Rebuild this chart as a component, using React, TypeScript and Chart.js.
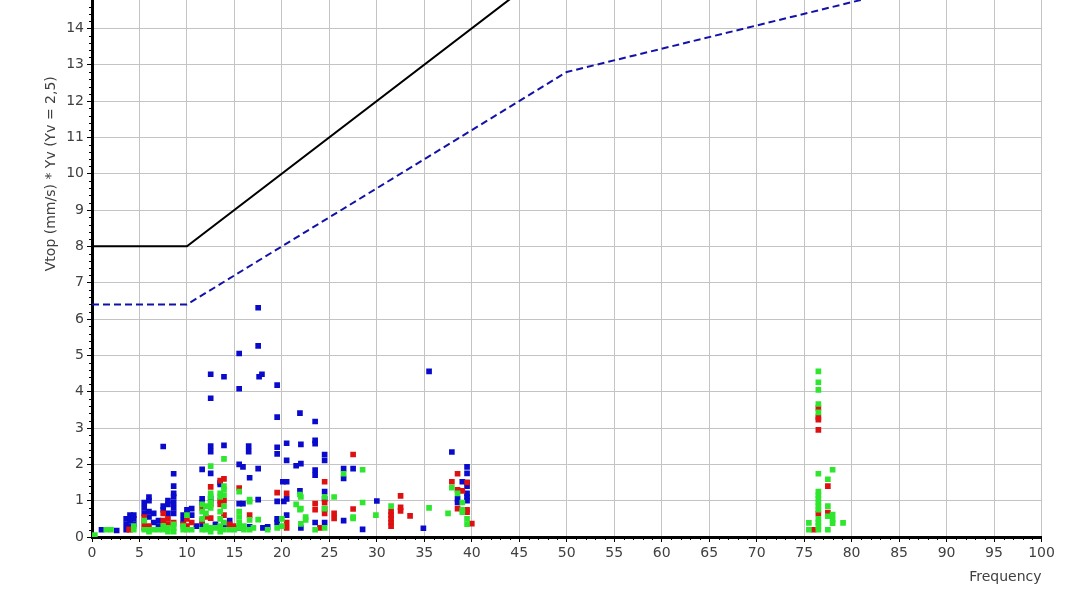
import React, { useEffect, useRef } from "react";
import { Chart, registerables } from "chart.js";

Chart.register(...registerables);

const X_MIN = 0;
const X_MAX = 100;
const X_STEP = 5;
const Y_MIN = 0;
const Y_MAX = 20;
const Y_STEP = 1;

const xTitle = "Frequency";
const yTitle = "Vtop (mm/s) * Yv (Yv = 2,5)";

// limit lines [frequency, value]
const limitLine1: number[][] = [[0, 8], [10, 8], [50, 16], [100, 20]];
const limitLine2: number[][] = [[0, 6.4], [10, 6.4], [50, 12.8], [100, 16]];

// measured points [frequency, value]
const bluePoints: number[][] = [
  [1.0, 0.2], [2.6, 0.18],
  [3.6, 0.5], [3.6, 0.35], [3.6, 0.2],
  [4.0, 0.6], [4.0, 0.45], [4.0, 0.3],
  [4.4, 0.6], [4.4, 0.5], [4.4, 0.35],
  [5.5, 0.95], [5.5, 0.8], [5.5, 0.65],
  [6.0, 1.1], [6.0, 1.0], [6.0, 0.7], [6.0, 0.55],
  [6.5, 0.65], [6.5, 0.4],
  [7.0, 0.45], [7.0, 0.3],
  [7.5, 2.49], [7.5, 0.85], [7.5, 0.75],
  [8.0, 1.0], [8.0, 0.9], [8.0, 0.65],
  [8.6, 1.74], [8.6, 1.4], [8.6, 1.2], [8.6, 1.1], [8.6, 0.95], [8.6, 0.8], [8.6, 0.65],
  [9.6, 0.6], [9.6, 0.45],
  [10.0, 0.75], [10.0, 0.65],
  [10.5, 0.78], [10.5, 0.6],
  [11.0, 0.3],
  [11.6, 1.86], [11.6, 1.05], [11.6, 0.95], [11.6, 0.35],
  [12.5, 4.48], [12.5, 3.82], [12.5, 2.5], [12.5, 2.35], [12.5, 1.75], [12.5, 1.05],
  [13.0, 0.35],
  [13.5, 1.5], [13.5, 1.45],
  [13.9, 4.41], [13.9, 2.52], [13.9, 0.35],
  [14.5, 0.45], [14.5, 0.3],
  [15.5, 5.05], [15.5, 4.08], [15.5, 2.0], [15.5, 0.92], [15.5, 0.25],
  [15.9, 1.93], [15.9, 0.92],
  [16.5, 2.5], [16.5, 2.35], [16.6, 1.63], [16.6, 0.28],
  [17.5, 6.31], [17.5, 5.26], [17.6, 4.41], [17.9, 4.48], [17.5, 1.88], [17.5, 1.03],
  [18.0, 0.25], [18.5, 0.28],
  [19.5, 4.18], [19.5, 3.3], [19.5, 2.47], [19.5, 2.29], [19.5, 0.98], [19.5, 0.5], [19.5, 0.4],
  [20.1, 1.52], [20.5, 1.52], [20.2, 0.98], [20.5, 1.05], [20.5, 0.6],
  [20.5, 2.58], [20.5, 2.11],
  [21.5, 1.96], [22.0, 2.02], [22.0, 2.55], [21.9, 3.41], [21.9, 1.27], [22.0, 0.25],
  [23.5, 3.18], [23.5, 2.66], [23.5, 2.57], [23.5, 1.84], [23.5, 1.7], [23.5, 0.4],
  [24.5, 2.27], [24.5, 2.11], [24.5, 1.25], [24.5, 1.05], [24.5, 0.4],
  [26.5, 1.88], [26.5, 1.61], [26.5, 0.45],
  [27.5, 1.88],
  [28.5, 0.21],
  [30.0, 0.99],
  [34.9, 0.24],
  [35.5, 4.56],
  [37.9, 2.34],
  [38.5, 1.05], [38.5, 0.95],
  [39.0, 1.52],
  [39.5, 1.93], [39.5, 1.75], [39.5, 1.5], [39.5, 1.4], [39.5, 1.2], [39.5, 1.1], [39.5, 1.0],
];

const redPoints: number[][] = [
  [3.9, 0.21], [4.0, 0.2],
  [5.5, 0.55], [5.5, 0.4], [5.5, 0.25],
  [6.0, 0.3],
  [7.5, 0.65], [7.5, 0.45],
  [8.0, 0.5], [8.0, 0.35],
  [8.6, 0.4],
  [9.6, 0.35],
  [10.0, 0.5], [10.0, 0.3],
  [10.5, 0.4],
  [11.6, 0.8], [11.6, 0.45],
  [12.0, 0.55],
  [12.5, 1.38], [12.5, 0.9], [12.5, 0.52],
  [13.5, 1.55], [13.5, 1.0], [13.5, 0.9],
  [13.9, 1.6], [13.9, 1.0], [13.9, 0.6],
  [14.5, 0.35], [14.9, 0.3],
  [15.5, 1.35],
  [16.6, 0.6],
  [19.5, 1.22], [20.5, 1.2], [20.5, 0.4], [20.5, 0.25],
  [23.5, 0.92], [23.5, 0.75],
  [24.0, 0.25], [24.5, 1.52], [24.5, 0.95], [24.5, 0.78], [24.5, 0.65],
  [25.5, 0.51], [25.5, 0.65],
  [27.5, 2.27], [27.5, 0.77],
  [31.5, 0.7], [31.5, 0.6], [31.5, 0.5], [31.5, 0.4], [31.5, 0.3],
  [32.5, 1.13], [32.5, 0.82], [32.5, 0.72],
  [33.5, 0.58],
  [37.9, 1.52], [38.5, 1.74], [38.5, 1.3], [38.5, 0.78],
  [39.0, 1.27], [39.5, 1.5], [39.5, 0.75], [39.5, 0.68], [40.0, 0.37],
  [76.5, 3.55], [76.5, 3.3], [76.5, 3.23], [76.5, 2.95], [76.5, 0.65],
  [77.5, 1.4], [77.5, 0.67], [76.0, 0.2],
];

const greenPoints: number[][] = [
  [0.3, 0.05], [1.5, 0.2], [2.0, 0.2],
  [4.4, 0.2], [4.4, 0.3],
  [5.5, 0.45], [5.5, 0.2],
  [6.0, 0.2], [6.0, 0.15],
  [6.5, 0.2],
  [7.0, 0.2],
  [7.5, 0.3], [7.5, 0.2],
  [8.0, 0.25], [8.0, 0.15],
  [8.6, 0.35], [8.6, 0.25], [8.6, 0.15],
  [9.6, 0.3], [9.6, 0.2],
  [10.0, 0.6], [10.0, 0.2],
  [10.5, 0.2],
  [11.6, 0.9], [11.6, 0.7], [11.6, 0.5], [11.6, 0.2],
  [12.0, 0.85], [12.0, 0.65], [12.0, 0.3], [12.0, 0.2],
  [12.5, 1.95], [12.5, 1.2], [12.5, 1.1], [12.5, 0.95], [12.5, 0.8], [12.5, 0.25], [12.5, 0.15],
  [13.0, 0.25],
  [13.5, 1.2], [13.5, 1.1], [13.5, 0.7], [13.5, 0.5], [13.5, 0.3], [13.5, 0.15],
  [13.9, 2.15], [13.9, 1.4], [13.9, 1.3], [13.9, 1.15], [13.9, 0.85], [13.9, 0.4], [13.9, 0.2],
  [14.5, 0.2],
  [15.0, 0.2],
  [15.5, 1.25], [15.5, 0.7], [15.5, 0.55], [15.5, 0.4], [15.5, 0.25],
  [16.0, 0.3], [16.0, 0.2],
  [16.6, 1.03], [16.6, 0.97], [16.6, 0.47], [16.6, 0.2],
  [17.0, 0.25],
  [17.5, 0.48],
  [18.5, 0.2],
  [19.5, 0.25], [20.0, 0.5], [20.0, 0.3],
  [21.5, 0.9], [21.9, 1.17], [21.9, 0.75], [22.0, 1.1], [22.0, 0.78], [22.0, 0.36], [22.5, 0.47], [22.5, 0.55],
  [23.5, 0.2],
  [24.5, 1.1], [24.5, 0.78], [24.5, 0.25],
  [25.5, 1.1],
  [26.5, 1.74],
  [27.5, 0.55], [27.5, 0.51],
  [28.5, 1.85], [28.5, 0.95],
  [29.9, 0.6],
  [31.5, 0.85],
  [35.5, 0.8],
  [37.5, 0.65],
  [37.9, 1.36], [38.5, 1.2], [39.0, 0.95], [39.0, 0.75], [39.0, 0.68], [39.5, 0.5], [39.5, 0.35],
  [75.5, 0.39], [75.5, 0.2],
  [76.5, 4.56], [76.5, 4.26], [76.5, 4.05], [76.5, 3.66], [76.5, 3.43], [76.5, 1.74],
  [76.5, 1.25], [76.5, 1.15], [76.5, 1.05], [76.5, 0.95], [76.5, 0.85], [76.5, 0.75],
  [76.5, 0.5], [76.5, 0.4], [76.5, 0.3], [76.5, 0.2],
  [77.5, 1.59], [77.5, 0.85], [77.5, 0.57], [77.5, 0.2],
  [78.0, 1.85], [78.0, 0.62], [78.0, 0.48], [78.0, 0.38],
  [79.1, 0.39],
];

const toXY = (arr: number[][]) => arr.map(([x, y]) => ({ x, y }));

const minorTicks = {
  id: "minorTicks",
  afterDraw(chart: any) {
    const { ctx, chartArea, scales } = chart;
    ctx.save();
    ctx.strokeStyle = "#000";
    ctx.lineWidth = 1;
    ctx.beginPath();
    for (let v = X_MIN; v <= X_MAX; v += 1) {
      if (v % X_STEP === 0) continue;
      const x = Math.round(scales.x.getPixelForValue(v)) + 0.5;
      ctx.moveTo(x, chartArea.bottom);
      ctx.lineTo(x, chartArea.bottom + 3);
    }
    for (let i = 0; i <= Y_MAX * 5; i++) {
      if (i % 5 === 0) continue;
      const y = Math.round(scales.y.getPixelForValue(i / 5)) + 0.5;
      ctx.moveTo(chartArea.left - 3, y);
      ctx.lineTo(chartArea.left, y);
    }
    ctx.stroke();
    ctx.restore();
  },
};

export default function App() {
  const ref = useRef<HTMLCanvasElement | null>(null);

  useEffect(() => {
    if (!ref.current) return;
    Chart.defaults.font.family = "'DejaVu Sans', Verdana, sans-serif";
    const pointStyle = { pointStyle: "rect" as const, pointRadius: 4, pointBorderWidth: 0, showLine: false };
    const chart = new Chart(ref.current, {
      type: "scatter",
      data: {
        datasets: [
          { label: "green", data: toXY(greenPoints), backgroundColor: "#2ee62e", borderColor: "#2ee62e", ...pointStyle },
          { label: "red", data: toXY(redPoints), backgroundColor: "#dd1111", borderColor: "#dd1111", ...pointStyle },
          { label: "blue", data: toXY(bluePoints), backgroundColor: "#0a0acc", borderColor: "#0a0acc", ...pointStyle },
          {
            label: "limit 1",
            data: toXY(limitLine1),
            showLine: true,
            borderColor: "#000000",
            borderWidth: 2,
            pointRadius: 0,
          },
          {
            label: "limit 2",
            data: toXY(limitLine2),
            showLine: true,
            borderColor: "#1212a8",
            borderWidth: 2,
            borderDash: [7, 4],
            pointRadius: 0,
          },
        ],
      },
      options: {
        animation: false,
        responsive: false,
        maintainAspectRatio: false,
        events: [],
        layout: { padding: { left: 39, right: 24.5, top: 0, bottom: 0 } },
        plugins: { legend: { display: false }, tooltip: { enabled: false } },
        scales: {
          x: {
            type: "linear",
            min: X_MIN,
            max: X_MAX,
            afterFit: (s: any) => { s.height = 53; },
            ticks: { stepSize: X_STEP, color: "#404040", font: { size: 14 }, padding: 3, maxRotation: 0 },
            grid: { color: "#c4c4c4", lineWidth: 1, drawTicks: true, tickLength: 5, tickColor: "#000", tickWidth: 1 },
            border: { display: true, color: "#000", width: 3 },
            title: { display: true, text: xTitle, align: "end", color: "#404040", font: { size: 14 }, padding: { top: 2, bottom: 4 } },
          },
          y: {
            type: "linear",
            min: Y_MIN,
            max: Y_MAX,
            afterFit: (s: any) => { s.width = 53; },
            ticks: { stepSize: Y_STEP, color: "#404040", font: { size: 14 }, padding: 3 },
            grid: { color: "#c4c4c4", lineWidth: 1, drawTicks: true, tickLength: 5, tickColor: "#000", tickWidth: 1 },
            border: { display: true, color: "#000", width: 3 },
            title: { display: true, text: yTitle, color: "#404040", font: { size: 14 }, padding: { top: 4, bottom: 4 } },
          },
        },
      },
      plugins: [minorTicks],
    });
    return () => chart.destroy();
  }, []);

  return (
    <div style={{ position: "fixed", top: -201, left: 0, width: 1066, height: 791, background: "#fff" }}>
      <canvas ref={ref} width={1066} height={791} style={{ display: "block" }} />
    </div>
  );
}
